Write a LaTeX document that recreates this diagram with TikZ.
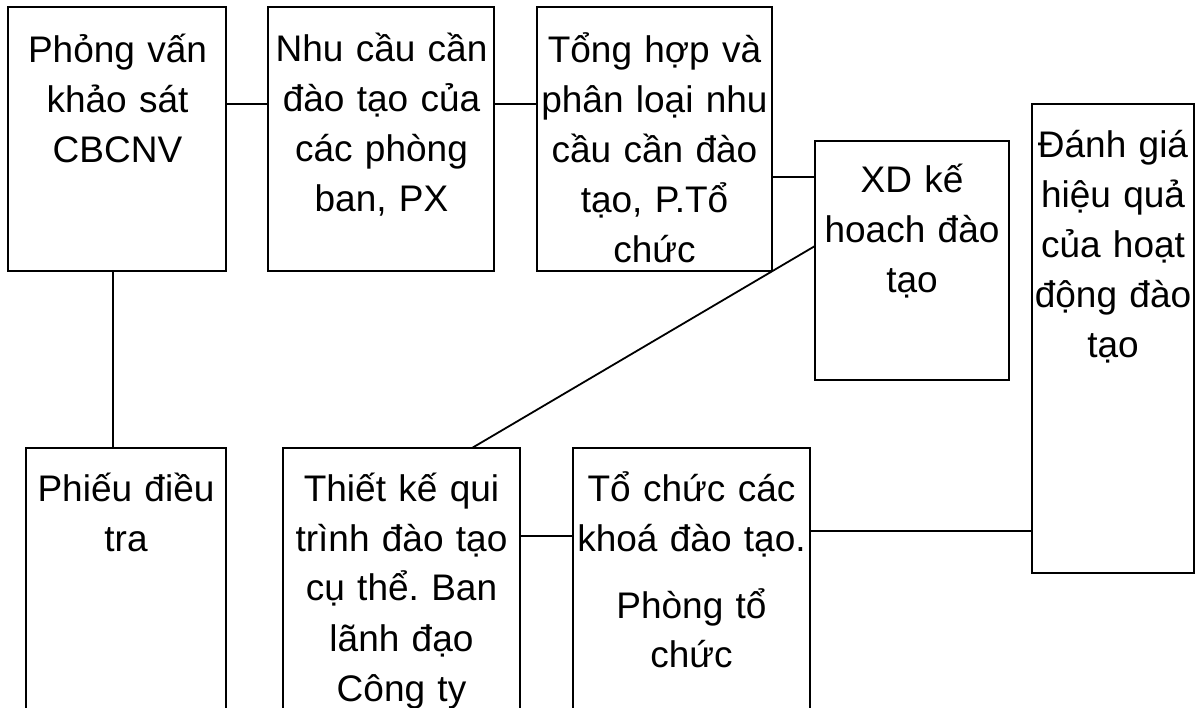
\documentclass[tikz,border=0pt]{standalone}
\usepackage{fontspec}
\setmainfont{Liberation Sans}
\frenchspacing
\begin{document}
\begin{tikzpicture}[x=1pt,y=-1pt,
  box/.style={draw=black,line width=1.8pt,anchor=north west,inner sep=0pt,outer sep=0pt},
  txt/.style={anchor=base,align=center,inner sep=0pt,text width=#1,font=\fontsize{37}{50}\selectfont\frenchspacing},
  txt/.default=230pt,
  link/.style={draw=black,line width=1.8pt}]
\clip (0,0) rectangle (1200,708);
\fill[white] (0,0) rectangle (1200,708);
% boxes
\node[box,minimum width=218pt,minimum height=264pt] (b1) at (8,7) {};
\node[box,minimum width=226pt,minimum height=264pt] (b2) at (268,7) {};
\node[box,minimum width=235pt,minimum height=264pt] (b3) at (537,7) {};
\node[box,minimum width=194pt,minimum height=239pt] (b4) at (815,141) {};
\node[box,minimum width=162pt,minimum height=469pt] (b5) at (1032,104) {};
\node[box,minimum width=200pt,minimum height=300pt] (b6) at (26,448) {};
\node[box,minimum width=237pt,minimum height=300pt] (b7) at (283,448) {};
\node[box,minimum width=237pt,minimum height=300pt] (b8) at (573,448) {};
% texts
\node[txt] (t1) at ([xshift=0.5pt,yshift=-56pt]b1.north) {Phỏng vấn\\khảo sát\\CBCNV};
\node[txt] (t2) at ([xshift=0.5pt,yshift=-55pt]b2.north) {Nhu cầu cần\\đào tạo của\\các phòng\\ban, PX};
\node[txt] (t3) at ([yshift=-56pt]b3.north) {Tổng hợp và\\phân loại nhu\\cầu cần đào\\tạo, P.Tổ\\chức};
\node[txt] (t4) at ([yshift=-52pt]b4.north) {XD kế\\hoach đào\\tạo};
\node[txt] (t5) at ([yshift=-54pt]b5.north) {Đánh giá\\hiệu quả\\của hoạt\\động đào\\tạo};
\node[txt] (t6) at ([yshift=-53pt]b6.north) {Phiếu điều\\tra};
\node[txt] (t7) at ([yshift=-53pt]b7.north) {Thiết kế qui\\trình đào tạo\\cụ thể. Ban\\lãnh đạo\\Công ty};
\node[txt] (t8) at ([yshift=-53pt]b8.north) {Tổ chức các\\khoá đào tạo.\\[17pt]Phòng tổ\\chức};
% connector points
\coordinate (c12) at ([yshift=35pt]b1.east);
\coordinate (c23) at ([yshift=35pt]b2.east);
\coordinate (c34) at ([yshift=-38pt]b3.east);
\coordinate (c47) at ([yshift=14.5pt]b4.west);
\coordinate (c74) at ([xshift=70.5pt]b7.north);
\coordinate (c16) at ([xshift=-4pt]b1.south);
\coordinate (c78) at ([yshift=-88pt]b7.north east);
\coordinate (c85) at ([yshift=-83pt]b8.north east);
% connectors
\draw[link] (c12) -- (c12 -| b2.west);
\draw[link] (c23) -- (c23 -| b3.west);
\draw[link] (c34) -- (c34 -| b4.west);
\draw[link] (c47) -- (c74);
\draw[link] (c16) -- (c16 |- b6.north);
\draw[link] (c78) -- (c78 -| b8.west);
\draw[link] (c85) -- (c85 -| b5.west);
\end{tikzpicture}
\end{document}
